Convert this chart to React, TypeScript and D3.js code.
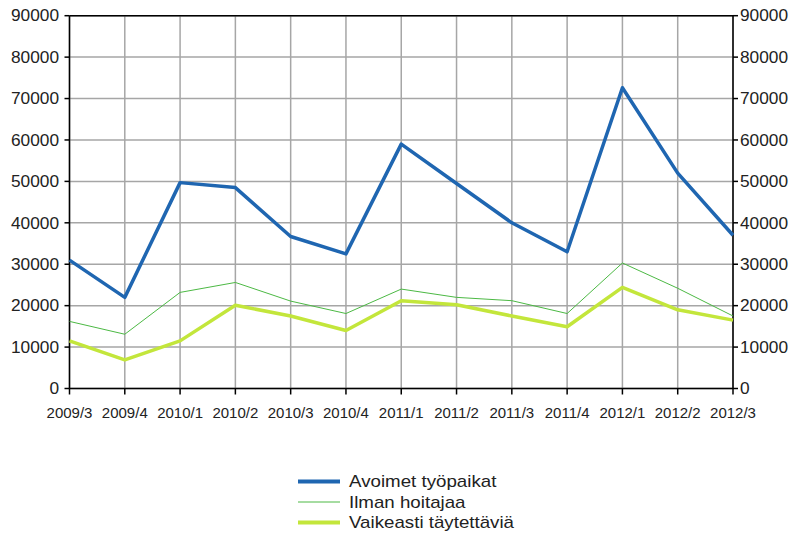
import React from "react";
import * as d3 from "d3";

const categories = ["2009/3","2009/4","2010/1","2010/2","2010/3","2010/4","2011/1","2011/2","2011/3","2011/4","2012/1","2012/2","2012/3"];
const avoimet = [31000, 22000, 49700, 48500, 36700, 32500, 59000, 49500, 40000, 33000, 72600, 52000, 37000];
const ilman = [16200, 13100, 23200, 25600, 21100, 18100, 24000, 22000, 21200, 18100, 30300, 24200, 17500];
const vaikeasti = [11500, 6900, 11500, 20100, 17500, 14000, 21200, 20200, 17500, 14900, 24400, 19000, 16500];
const yTicks = [0, 10000, 20000, 30000, 40000, 50000, 60000, 70000, 80000, 90000];

const series = [
  { name: "Avoimet työpaikat", values: avoimet, color: "#1f66b1", width: 3.5 },
  { name: "Ilman hoitajaa", values: ilman, color: "#4cb944", width: 1 },
  { name: "Vaikeasti täytettäviä", values: vaikeasti, color: "#c3e63b", width: 3.5 },
];

export default function App() {
  const W = 792, H = 536;
  const left = 69.5, right = 733, top = 15.7, bottom = 388.5;
  const x = d3.scalePoint<string>().domain(categories).range([left, right]);
  const y = d3.scaleLinear().domain([0, 90000]).range([bottom, top]);
  const line = (vals: number[]) =>
    d3.line<number>().x((_, i) => x(categories[i])!).y((d) => y(d))(vals) || "";
  const font = "Liberation Sans, Arial, sans-serif";
  const drawOrder = [1, 2, 0];
  return (
    <svg width={W} height={H} style={{ position: "absolute", left: 0, top: 0 }}>
      <rect width={W} height={H} fill="#fff" />
      {yTicks.map((t) => (
        <line key={"h" + t} x1={left} x2={right} y1={y(t)} y2={y(t)} stroke="#a6a6a6" strokeWidth={1.5} />
      ))}
      {categories.map((c) => (
        <line key={"v" + c} x1={x(c)} x2={x(c)} y1={top} y2={bottom} stroke="#a6a6a6" strokeWidth={1.5} />
      ))}
      <line x1={left} x2={right} y1={top} y2={top} stroke="#000" strokeWidth={1.5} />
      <line x1={left} x2={right} y1={bottom} y2={bottom} stroke="#000" strokeWidth={1.5} />
      <line x1={left} x2={left} y1={top} y2={bottom} stroke="#000" strokeWidth={1.5} />
      <line x1={right} x2={right} y1={top} y2={bottom} stroke="#000" strokeWidth={1.5} />
      {yTicks.map((t) => (
        <g key={"t" + t}>
          <line x1={left - 5} x2={left} y1={y(t)} y2={y(t)} stroke="#000" strokeWidth={1.5} />
          <line x1={right} x2={right + 5} y1={y(t)} y2={y(t)} stroke="#000" strokeWidth={1.5} />
          <text transform={`translate(59, ${y(t)}) scale(1.08, 1)`} dy="0.36em" textAnchor="end" fontFamily={font} fontSize={16} fill="#222">{t}</text>
          <text transform={`translate(740, ${y(t)}) scale(1.08, 1)`} dy="0.36em" textAnchor="start" fontFamily={font} fontSize={16} fill="#222">{t}</text>
        </g>
      ))}
      {categories.map((c) => (
        <g key={"x" + c}>
          <line x1={x(c)} x2={x(c)} y1={bottom} y2={bottom + 6} stroke="#000" strokeWidth={1.5} />
          <text x={x(c)} y={417.5} textAnchor="middle" fontFamily={font} fontSize={15} fill="#222">{c}</text>
        </g>
      ))}
      {drawOrder.map((i) => (
        <path key={series[i].name} d={line(series[i].values)} fill="none" stroke={series[i].color} strokeWidth={series[i].width} strokeLinejoin="round" />
      ))}
      {series.map((s, i) => (
        <g key={"l" + s.name} transform={`translate(0, ${481.5 + i * 20.5})`}>
          <line x1={298} x2={340} y1={0} y2={0} stroke={s.color} strokeWidth={s.width === 1 ? 1 : 4} />
          <text transform="translate(349, 0) scale(1.17, 1)" dy="0.36em" fontFamily={font} fontSize={16} fill="#222">{s.name}</text>
        </g>
      ))}
    </svg>
  );
}
